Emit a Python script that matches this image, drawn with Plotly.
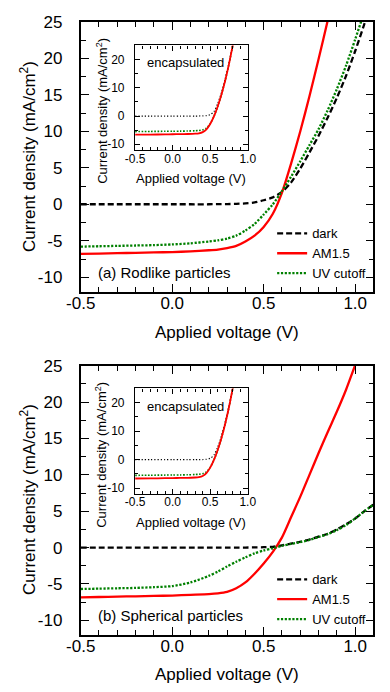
import plotly.graph_objects as go

# ---------------- data ----------------
V_main = [-0.5, -0.4, -0.3, -0.2, -0.1, 0.0, 0.1, 0.2, 0.25, 0.3, 0.35, 0.4, 0.45,
          0.5, 0.55, 0.6, 0.65, 0.7, 0.75, 0.8, 0.85, 0.9, 0.95, 1.0, 1.05, 1.1]

# (a) Rodlike particles
dark_a = [0, 0, 0, 0, 0, 0, 0, 0, 0.02, 0.03, 0.06, 0.12, 0.25,
          0.55, 0.95, 1.7, 3.0, 4.9, 7.1, 9.4, 11.9, 14.6, 17.6, 21.0, 24.7, 28.6]
am15_a = [-6.8, -6.75, -6.7, -6.65, -6.6, -6.55, -6.45, -6.3, -6.2, -6.0, -5.7, -5.1, -4.3,
          -3.1, -1.3, 1.6, 5.6, 10.0, 14.8, 19.9, 25.2, 30.5, 36.0, 41.5, 47.0, 52.5]
uv_a = [-5.8, -5.75, -5.7, -5.65, -5.6, -5.5, -5.35, -5.1, -4.95, -4.7, -4.3, -3.6, -2.7,
        -1.4, 0.0, 1.8, 3.8, 5.9, 8.1, 10.3, 12.9, 15.8, 19.0, 22.6, 26.4, 30.5]

# (b) Spherical particles
dark_b = [0, 0, 0, 0, 0, 0, 0, 0, 0, 0, 0, 0, 0.02,
          0.05, 0.1, 0.3, 0.55, 0.8, 1.1, 1.5, 1.9, 2.5, 3.2, 4.0, 5.0, 5.9]
am15_b = [-6.85, -6.8, -6.75, -6.7, -6.65, -6.6, -6.5, -6.4, -6.3, -6.1, -5.6, -4.8, -3.6,
          -2.2, -0.6, 1.4, 4.2, 7.0, 10.0, 13.0, 15.9, 18.7, 21.7, 25.1, 28.5, 32.0]
uv_b = [-5.7, -5.65, -5.6, -5.55, -5.45, -5.3, -4.8, -3.9, -3.3, -2.6, -1.95, -1.35, -0.8,
        -0.4, -0.1, 0.25, 0.5, 0.75, 1.05, 1.45, 1.85, 2.4, 3.1, 4.0, 5.0, 5.9]

# insets (encapsulated)
V_in = [-0.5, -0.3, -0.1, 0.0, 0.1, 0.2, 0.3, 0.35, 0.4, 0.45, 0.5, 0.55, 0.6,
        0.65, 0.7, 0.75, 0.8, 0.85]
dark_in = [0, 0, 0, 0, 0, 0, 0, 0.02, 0.05, 0.15, 0.5, 1.6, 4.4,
           8.3, 13.2, 18.8, 25.2, 32.0]
am15_in = [-6.6, -6.55, -6.5, -6.45, -6.4, -6.35, -6.25, -6.1, -5.7, -4.7, -2.8, -0.1, 3.4,
           7.6, 12.6, 18.4, 25.0, 32.0]
uv_in = [-5.5, -5.45, -5.4, -5.38, -5.35, -5.3, -5.2, -5.1, -4.9, -4.3, -2.7, -0.1, 3.4,
         7.6, 12.6, 18.4, 25.0, 32.0]

series_names = ["dark", "AM1.5", "UV cutoff"]

main_xticks = [-0.5, 0.0, 0.5, 1.0]
main_xtext = ["-0.5", "0.0", "0.5", "1.0"]
main_yticks = [-10, -5, 0, 5, 10, 15, 20, 25]
main_ytext = ["-10", "-5", "0", "5", "10", "15", "20", "25"]
in_xticks = [-0.5, 0.0, 0.5, 1.0]
in_xtext = ["-0.5", "0.0", "0.5", "1.0"]
in_yticks = [-10, 0, 10, 20]
in_ytext = ["-10", "0", "10", "20"]

# ---------------- figure ----------------
FONT = "Liberation Sans, Arial, sans-serif"
W, H = 390, 692
RED, GREEN, BLACK = "#ff0000", "#008000", "#000000"

fig = go.Figure()


def add(x, y, name, color, dash, width, xa, ya, legend=None, show=False):
    kw = dict(x=x, y=y, mode="lines", name=name,
              line=dict(color=color, dash=dash, width=width, shape="spline", smoothing=0.7),
              xaxis=xa, yaxis=ya, showlegend=show, hoverinfo="skip")
    if legend:
        kw["legend"] = legend
    fig.add_trace(go.Scatter(**kw))


MAIN_DASH = "6px,3px"
MAIN_DOT = "2.2px,1.6px"

# top main
add(V_main, dark_a, series_names[0], BLACK, MAIN_DASH, 2.3, "x", "y", "legend", True)
add(V_main, am15_a, series_names[1], RED, "solid", 2.3, "x", "y", "legend", True)
add(V_main, uv_a, series_names[2], GREEN, MAIN_DOT, 2.3, "x", "y", "legend", True)
# top inset
add(V_in, dark_in, series_names[0], BLACK, "1.2px,2px", 1.2, "x2", "y2")
add(V_in, uv_in, series_names[2], GREEN, "1.6px,1.6px", 1.6, "x2", "y2")
add(V_in, am15_in, series_names[1], RED, "solid", 1.8, "x2", "y2")
# bottom main
add(V_main, dark_b, series_names[0], BLACK, MAIN_DASH, 2.3, "x3", "y3", "legend2", True)
add(V_main, am15_b, series_names[1], RED, "solid", 2.3, "x3", "y3", "legend2", True)
add(V_main, uv_b, series_names[2], GREEN, MAIN_DOT, 2.3, "x3", "y3", "legend2", True)
# bottom inset
add(V_in, dark_in, series_names[0], BLACK, "1.2px,2px", 1.2, "x4", "y4")
add(V_in, uv_in, series_names[2], GREEN, "1.6px,1.6px", 1.6, "x4", "y4")
add(V_in, am15_in, series_names[1], RED, "solid", 1.8, "x4", "y4")


def px_x(p):
    return p / W


def px_y(p):
    return 1 - p / H


def axis_common(fs, lw, tl, standoff):
    return dict(showline=True, linecolor="black", linewidth=lw, mirror="allticks",
                ticks="inside", ticklen=tl, tickwidth=lw * 0.8, tickcolor="black",
                showgrid=False, zeroline=False, fixedrange=True,
                tickfont=dict(family=FONT, size=fs, color="black"),
                ticklabelstandoff=standoff)


# geometry (pixel positions)
MX = [px_x(70), px_x(382)]
TOP_Y = [px_y(287), px_y(13)]
BOT_Y = [px_y(635), px_y(362)]
IX = [px_x(128), px_x(248)]
TOP_IY = [px_y(143), px_y(37)]
BOT_IY = [px_y(492), px_y(385)]


def main_x(anchor):
    d = axis_common(17, 1.8, 8, -5)
    d.update(domain=MX, anchor=anchor, range=[-0.5, 1.1], tickvals=main_xticks,
             ticktext=main_xtext,
             minor=dict(dtick=0.1, tick0=0, ticks="inside", ticklen=5, tickwidth=1.4,
                        tickcolor="black", showgrid=False))
    return d


def main_y(anchor, dom):
    d = axis_common(17, 1.8, 8, 13)
    d.update(domain=dom, anchor=anchor, range=[-12, 25], tickvals=main_yticks,
             ticktext=main_ytext,
             minor=dict(dtick=2.5, tick0=0, ticks="inside", ticklen=5, tickwidth=1.4,
                        tickcolor="black", showgrid=False))
    return d


def in_x(anchor):
    d = axis_common(12, 1.4, 5, -3)
    d.update(domain=IX, anchor=anchor, range=[-0.5, 1.0], tickvals=in_xticks,
             ticktext=in_xtext,
             minor=dict(dtick=0.1, tick0=0, ticks="inside", ticklen=3, tickwidth=1.1,
                        tickcolor="black", showgrid=False))
    return d


def in_y(anchor, dom):
    d = axis_common(12, 1.4, 5, 7)
    d.update(domain=dom, anchor=anchor, range=[-12, 25], tickvals=in_yticks,
             ticktext=in_ytext,
             minor=dict(dtick=5, tick0=0, ticks="inside", ticklen=3, tickwidth=1.1,
                        tickcolor="black", showgrid=False))
    return d


legend_common = dict(font=dict(family=FONT, size=13, color="black"),
                     bgcolor="rgba(0,0,0,0)", borderwidth=0,
                     xanchor="left", yanchor="middle", tracegroupgap=0)

fig.update_layout(
    width=W, height=H,
    margin=dict(l=0, r=0, t=0, b=0),
    paper_bgcolor="white", plot_bgcolor="white",
    font=dict(family=FONT, color="black"),
    xaxis=main_x("y"), yaxis=main_y("x", TOP_Y),
    xaxis2=in_x("y2"), yaxis2=in_y("x2", TOP_IY),
    xaxis3=main_x("y3"), yaxis3=main_y("x3", BOT_Y),
    xaxis4=in_x("y4"), yaxis4=in_y("x4", BOT_IY),
    legend=dict(x=px_x(274), y=px_y(248), **legend_common),
    legend2=dict(x=px_x(274), y=px_y(599), **legend_common),
)


def note(text, x, y, size, xanchor="center", yanchor="middle", angle=0):
    fig.add_annotation(text=text, x=x, y=y, xref="paper", yref="paper",
                       xanchor=xanchor, yanchor=yanchor, textangle=angle,
                       showarrow=False, font=dict(family=FONT, size=size, color="black"))


YT = "Current density (mA/cm<sup>2</sup>)"
XT = "Applied voltage (V)"

# top panel
note(YT, px_x(14), px_y(150), 17, angle=-90)
note(XT, px_x(226), px_y(328), 17)
note("(a) Rodlike particles", px_x(86), px_y(267), 15, xanchor="left")
note("encapsulated", px_x(138), px_y(54), 13, xanchor="left")
note(YT, px_x(92), px_y(103), 13, angle=-90)
note(XT, px_x(188), px_y(172), 13)

# bottom panel
note(YT, px_x(14), px_y(498), 17, angle=-90)
note(XT, px_x(226), px_y(675), 17)
note("(b) Spherical particles", px_x(86), px_y(615), 15, xanchor="left")
note("encapsulated", px_x(138), px_y(403), 13, xanchor="left")
note(YT, px_x(92), px_y(452), 13, angle=-90)
note(XT, px_x(188), px_y(521), 13)

fig.write_html("out.html")
